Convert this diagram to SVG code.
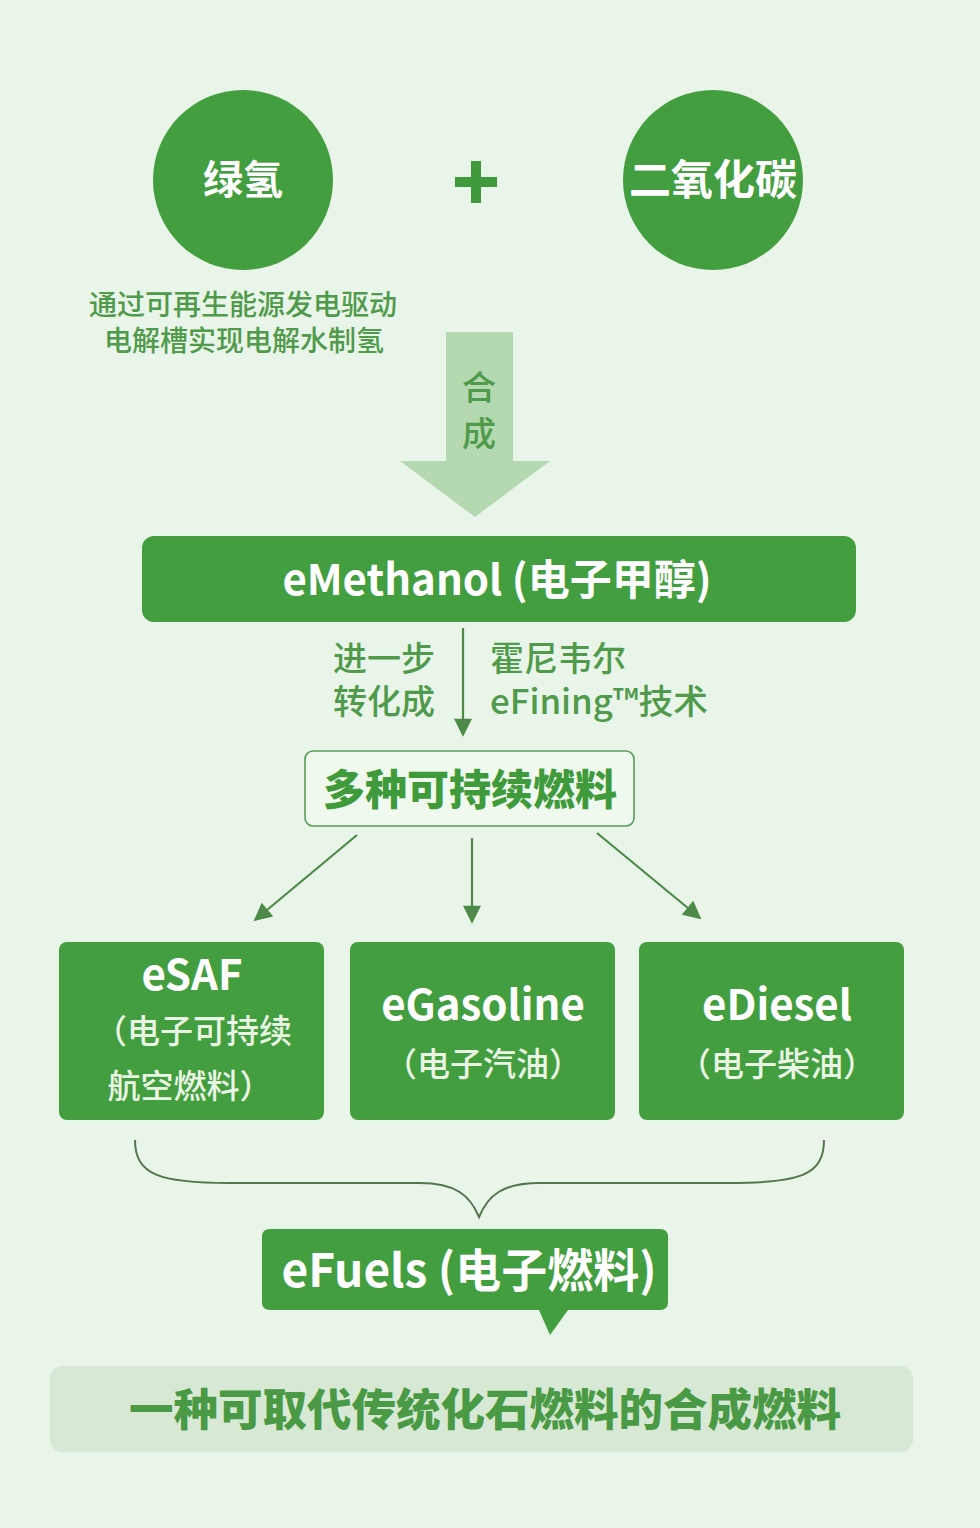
<svg xmlns="http://www.w3.org/2000/svg" width="980" height="1528" viewBox="0 0 980 1528">
<defs>
<style>
.cjk{font-family:"Noto Sans CJK SC","Noto Sans",sans-serif}
.wb{fill:#ffffff;font-weight:700}
.wl{fill:#eaf5e4;font-weight:500}
.gt{fill:#4f9a4b;font-weight:500}
.node{fill:#429e3e}
.conn{stroke:#4d8a49;stroke-width:2.2;fill:none}
</style>
<marker id="ah2" viewBox="0 0 10 10" refX="9" refY="5" markerWidth="22" markerHeight="18" markerUnits="userSpaceOnUse" orient="auto">
<path d="M0,0 L10,5 L0,10 z" fill="#4d8a49"/>
</marker>
</defs>
<rect x="0" y="0" width="980" height="1528" fill="#e9f5e8"/>

<g id="node-hydrogen">
<circle cx="243" cy="180" r="90" class="node"/>
<text x="243" y="194" text-anchor="middle" font-size="40" class="cjk wb">绿氢</text>
<text x="243" y="315" text-anchor="middle" font-size="28" class="cjk gt">通过可再生能源发电驱动</text>
<text x="244" y="351" text-anchor="middle" font-size="28" class="cjk gt">电解槽实现电解水制氢</text>
</g>

<g id="node-plus">
<rect x="455" y="177" width="42" height="10" fill="#3f9a3b"/>
<rect x="471" y="161" width="10" height="42" fill="#3f9a3b"/>
</g>

<g id="node-co2">
<circle cx="713" cy="180" r="90" class="node"/>
<text x="713" y="195" text-anchor="middle" font-size="42" class="cjk wb">二氧化碳</text>
</g>

<g id="node-synthesis">
<path d="M446,332 L513,332 L513,461 L550,461 L475,517 L400,461 L446,461 z" fill="#b4d8b0"/>
<text x="479" y="400" text-anchor="middle" font-size="34" class="cjk gt">合</text>
<text x="479" y="446" text-anchor="middle" font-size="34" class="cjk gt">成</text>
</g>

<g id="node-emethanol">
<rect x="142" y="536" width="714" height="86" rx="12" class="node"/>
<text x="497" y="595" text-anchor="middle" font-size="42" class="cjk wb">eMethanol (电子甲醇)</text>
</g>

<g id="node-label-convert">
<text x="384" y="671" text-anchor="middle" font-size="34" class="cjk gt">进一步</text>
<text x="384" y="714" text-anchor="middle" font-size="34" class="cjk gt">转化成</text>
<text x="490" y="671" font-size="34" class="cjk gt">霍尼韦尔</text>
<text x="490" y="714" font-size="34" class="cjk gt" textLength="218" lengthAdjust="spacingAndGlyphs">eFining™技术</text>
</g>

<g id="node-fuels">
<rect x="305" y="751" width="329" height="75" rx="8" fill="#eff9ee" stroke="#5b9a58" stroke-width="1.6"/>
<text x="470" y="805" text-anchor="middle" font-size="42" font-weight="900" class="cjk" fill="#3f9a3b">多种可持续燃料</text>
</g>

<g id="node-esaf">
<rect x="59" y="942" width="265" height="178" rx="8" class="node"/>
<text x="192" y="990" text-anchor="middle" font-size="42" class="cjk wb">eSAF</text>
<text x="193" y="1043" text-anchor="middle" font-size="33" class="cjk wl">（电子可持续</text>
<text x="190" y="1098" text-anchor="middle" font-size="33" class="cjk wl">航空燃料）</text>
</g>

<g id="node-egasoline">
<rect x="350" y="942" width="265" height="178" rx="8" class="node"/>
<text x="483" y="1020" text-anchor="middle" font-size="42" class="cjk wb">eGasoline</text>
<text x="483" y="1076" text-anchor="middle" font-size="33" class="cjk wl">（电子汽油）</text>
</g>

<g id="node-ediesel">
<rect x="639" y="942" width="265" height="178" rx="8" class="node"/>
<text x="777" y="1020" text-anchor="middle" font-size="42" class="cjk wb">eDiesel</text>
<text x="777" y="1076" text-anchor="middle" font-size="33" class="cjk wl">（电子柴油）</text>
</g>

<g id="node-efuels">
<path d="M270,1229 L660,1229 Q668,1229 668,1237 L668,1302 Q668,1310 660,1310 L568,1310 L550,1335 L539,1310 L270,1310 Q262,1310 262,1302 L262,1237 Q262,1229 270,1229 z" class="node"/>
<text x="469" y="1287" text-anchor="middle" font-size="46" class="cjk wb">eFuels (电子燃料)</text>
</g>

<g id="node-summary">
<rect x="50" y="1366" width="863" height="86" rx="12" fill="#d7e9d4"/>
<text x="485" y="1426" text-anchor="middle" font-size="44.5" font-weight="900" class="cjk" fill="#4a9a45">一种可取代传统化石燃料的合成燃料</text>
</g>

<g id="connectors">
<line x1="463" y1="628" x2="463" y2="735" class="conn" marker-end="url(#ah2)"/>
<line x1="357" y1="835" x2="255" y2="920" class="conn" marker-end="url(#ah2)"/>
<line x1="472" y1="838" x2="472" y2="922" class="conn" marker-end="url(#ah2)"/>
<line x1="597" y1="833" x2="700" y2="918" class="conn" marker-end="url(#ah2)"/>
<path d="M135,1140 C135,1175 160,1183 230,1183 L420,1183 C455,1183 470,1195 479,1217 C488,1195 503,1183 540,1183 L730,1183 C800,1183 824,1175 824,1140" stroke="#55754f" stroke-width="2" fill="none"/>
</g>
</svg>
